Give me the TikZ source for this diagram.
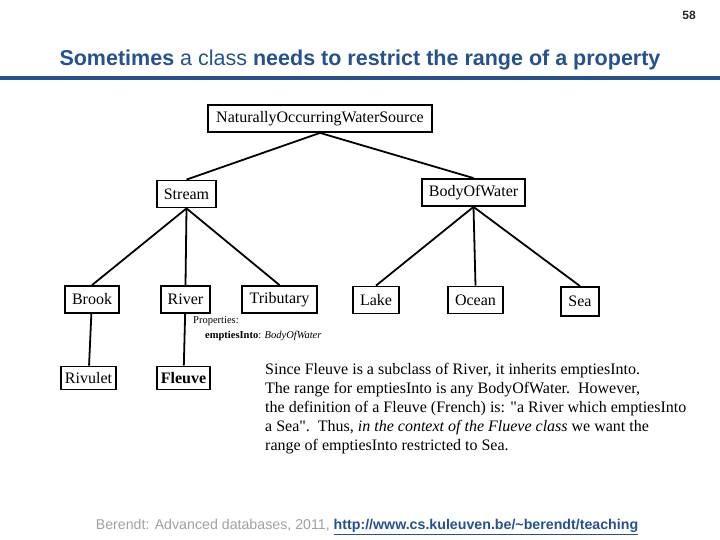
\documentclass[tikz,border=0pt]{standalone}
\usepackage{fontspec}
\setmainfont{Liberation Serif}[Ligatures=TeXOff]
\newfontfamily\arialfont{Liberation Sans}
\definecolor{slideblue}{RGB}{36,82,145}
\definecolor{footgray}{RGB}{160,160,160}

\begin{document}
\begin{tikzpicture}[x=1pt,y=-1pt,
    cls/.style={draw,line width=1.8pt,font=\fontsize{16}{18}\selectfont,
      inner sep=0pt,minimum height=27pt},
    lnk/.style={line width=1.8pt} ]
  \useasboundingbox (0,0) rectangle (720,540);
  % slide header
  \node[font=\arialfont\bfseries\fontsize{12}{14}\selectfont,text=black!85] (pageno) at (689,15) {58};
  \node[font=\arialfont\fontsize{21.5}{24}\selectfont,text=slideblue] (title) at (360,60)
    {\textbf{Sometimes} a class \textbf{needs to restrict the range of a property}};
  \draw[slideblue,line width=4pt] (0,78) -- (720,78);
  % class hierarchy
  \node[cls,minimum width=224pt] (Source) at (320,118.5) {NaturallyOccurringWaterSource};
  \node[cls,minimum width=59pt] (Stream) at (186.5,194) {Stream};
  \node[cls,minimum width=103pt] (Body) at (473.5,192.5) {BodyOfWater};
  \node[cls,minimum width=54pt] (Brook) at (92,299.5) {Brook};
  \node[cls,minimum width=49pt] (River) at (185.5,299.5) {River};
  \node[cls,minimum width=75pt] (Tributary) at (279.5,299.5) {Tributary};
  \node[cls,minimum width=46pt] (Lake) at (376,300) {Lake};
  \node[cls,minimum width=55pt] (Ocean) at (475.5,300) {Ocean};
  \node[cls,minimum width=38pt,minimum height=29pt] (Sea) at (580,301.5) {Sea};
  \node[cls,minimum width=55pt,minimum height=23pt] (Rivulet) at (88.5,378) {Rivulet};
  \node[cls,minimum width=53pt,minimum height=23pt,
    font=\bfseries\fontsize{16}{18}\selectfont] (Fleuve) at (183.5,378) {Fleuve};
  \draw[lnk] (Source.south) -- (Stream.north);
  \draw[lnk] (Source.south) -- (Body.north);
  \draw[lnk] (Stream.south) -- (Brook.north);
  \draw[lnk] (Stream.south) -- (River.north);
  \draw[lnk] (Stream.south) -- (Tributary.north);
  \draw[lnk] (Body.south) -- (Lake.north);
  \draw[lnk] (Body.south) -- (Ocean.north);
  \draw[lnk] (Body.south) -- (Sea.north);
  \draw[lnk] (Brook) -- (Rivulet);
  \draw[lnk] (River) -- (Fleuve);
  % property of River
  \node[anchor=north west,align=left,inner sep=0pt,font=\fontsize{10.5}{15}\selectfont] (props)
    at (193,316) {Properties:\\\hspace{12pt}\textbf{emptiesInto}: \textit{BodyOfWater}};
  \node[anchor=north west,align=left,inner sep=0pt,font=\fontsize{16}{19}\selectfont] (note)
    at (265,363) {Since Fleuve is a subclass of River, it inherits emptiesInto.\\
    The range for emptiesInto is any BodyOfWater.\ \ However,\\
    the definition of a Fleuve (French) is: "a River which emptiesInto\\
    a Sea".\ \ Thus, \textit{in the context of the Flueve class} we want the\\
    range of emptiesInto restricted to Sea.};
  % footer
  \node[font=\arialfont\fontsize{14.2}{16}\selectfont,text=footgray] (footer) at (367,527)
    {Berendt: Advanced databases, 2011, \textcolor{slideblue}{\textbf{\underline{http://www.cs.kuleuven.be/\textasciitilde{}berendt/teaching}}}};
\end{tikzpicture}
\end{document}
